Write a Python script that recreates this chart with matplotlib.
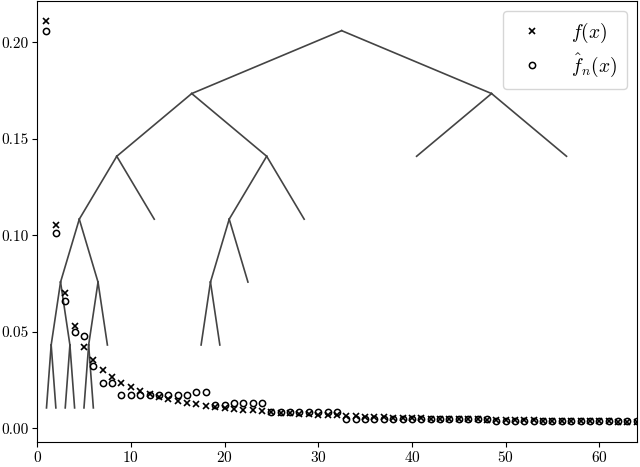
import numpy as np
import matplotlib
matplotlib.use("Agg")
import matplotlib.pyplot as plt

plt.rcParams['font.family'] = 'serif'
plt.rcParams['font.serif'] = ['cmr10']
plt.rcParams['mathtext.fontset'] = 'cm'
plt.rcParams['axes.formatter.use_mathtext'] = True

x_vals = list(range(1, 65))
f_true = [0.2108, 0.1054, 0.0703, 0.0527, 0.0422, 0.0351, 0.0301, 0.0263,
          0.0234, 0.0211, 0.0192, 0.0176, 0.0162, 0.0151, 0.0141, 0.0132,
          0.0124, 0.0117, 0.0111, 0.0105, 0.0100, 0.0096, 0.0092, 0.0088,
          0.0084, 0.0081, 0.0078, 0.0075, 0.0073, 0.0070, 0.0068, 0.0066,
          0.0064, 0.0062, 0.0060, 0.0059, 0.0057, 0.0055, 0.0054, 0.0053,
          0.0051, 0.0050, 0.0049, 0.0048, 0.0047, 0.0046, 0.0045, 0.0044,
          0.0043, 0.0042, 0.0041, 0.0041, 0.0040, 0.0039, 0.0038, 0.0038,
          0.0037, 0.0036, 0.0036, 0.0035, 0.0035, 0.0034, 0.0033, 0.0033]
f_hat = [0.206, 0.101, 0.066, 0.050, 0.048, 0.032, 0.0235, 0.0235,
         0.017, 0.017, 0.017, 0.017, 0.017, 0.017, 0.017, 0.017,
         0.0187, 0.0187, 0.0121, 0.0121, 0.0128, 0.0128, 0.0128, 0.0128,
         0.0083, 0.0083, 0.0083, 0.0083, 0.0083, 0.0083, 0.0083, 0.0083,
         0.0045, 0.0045, 0.0045, 0.0045, 0.0045, 0.0045, 0.0045, 0.0045,
         0.0045, 0.0045, 0.0045, 0.0045, 0.0045, 0.0045, 0.0045, 0.0045,
         0.0037, 0.0037, 0.0037, 0.0037, 0.0037, 0.0037, 0.0037, 0.0037,
         0.0037, 0.0037, 0.0037, 0.0037, 0.0037, 0.0037, 0.0037, 0.0037]

# tree drawn over the plot: heights of each depth level
tree_levels = [0.206, 0.1734, 0.1409, 0.1083, 0.0757, 0.0431, 0.0105]
# edges between intervals (parent, child), intervals as (lo, hi)
tree_edges = [
    ((1, 64), (1, 32)), ((1, 64), (33, 64)),
    ((33, 64), (33, 48)), ((33, 64), (49, 64)),
    ((1, 32), (1, 16)), ((1, 32), (17, 32)),
    ((1, 16), (1, 8)), ((1, 16), (9, 16)),
    ((17, 32), (17, 24)), ((17, 32), (25, 32)),
    ((1, 8), (1, 4)), ((1, 8), (5, 8)),
    ((17, 24), (17, 20)), ((17, 24), (21, 24)),
    ((1, 4), (1, 2)), ((1, 4), (3, 4)),
    ((5, 8), (5, 6)), ((5, 8), (7, 8)),
    ((17, 20), (17, 18)), ((17, 20), (19, 20)),
    ((1, 2), (1, 1)), ((1, 2), (2, 2)),
    ((3, 4), (3, 3)), ((3, 4), (4, 4)),
    ((5, 6), (5, 5)), ((5, 6), (6, 6)),
]

x_ticks = [0, 10, 20, 30, 40, 50, 60]
y_ticks = [0.00, 0.05, 0.10, 0.15, 0.20]


def node_pos(iv):
    lo, hi = iv
    depth = int(round(np.log2(64 / (hi - lo + 1))))
    return (lo + hi) / 2.0, tree_levels[depth]


fig = plt.figure(figsize=(6.4, 4.67), dpi=100)
ax = fig.add_axes([0.058, 0.053, 0.937, 0.945])

for parent, child in tree_edges:
    px, py = node_pos(parent)
    cx, cy = node_pos(child)
    ax.plot([px, cx], [py, cy], color='#444444', lw=1.2, zorder=1)

ax.plot(x_vals, f_true, linestyle='none', marker='x', color='black',
        markersize=4.5, markeredgewidth=1.2, label=r'$f(x)$', zorder=3)
ax.plot(x_vals, f_hat, linestyle='none', marker='o', markerfacecolor='none',
        markeredgecolor='black', markersize=4.5, markeredgewidth=1.1,
        label=r'$\hat{f}_n(x)$', zorder=3)

ax.set_xlim(0, 64)
ax.set_ylim(-0.0073, 0.2214)
ax.set_xticks(x_ticks)
ax.set_yticks(y_ticks)
ax.set_yticklabels(['%.2f' % v for v in y_ticks])
ax.tick_params(labelsize=11)
ax.tick_params(axis='x', pad=2)
ax.tick_params(axis='y', pad=2.5)

ax.legend(loc='upper right', fontsize=14, handletextpad=1.0,
          borderpad=0.5, labelspacing=0.35)

fig.savefig('out.png', dpi=100)
